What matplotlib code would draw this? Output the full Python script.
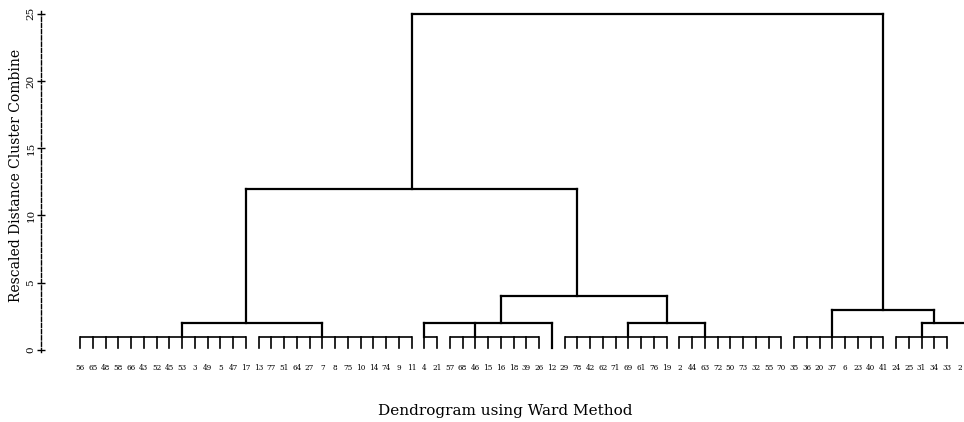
import matplotlib
matplotlib.use("Agg")
import matplotlib.pyplot as plt

# leaf labels, left to right (chart is cut off at the right edge)
leaf_labels = ["56", "65", "48", "58", "66", "43", "52", "45", "53", "3", "49", "5", "47", "17",
               "13", "77", "51", "64", "27", "7", "8", "75", "10", "14", "74", "9", "11",
               "4", "21",
               "57", "68", "46", "15", "16", "18", "39", "26",
               "12",
               "29", "78", "42", "62", "71", "69", "61", "76", "19",
               "2", "44", "63", "72", "50", "73", "32", "55", "70",
               "35", "36", "20", "37", "6", "23", "40", "41",
               "24", "25", "31", "34", "33",
               "2"]

# first-level clusters: (first leaf, last leaf, leaf where the branch rises)
groups = {
    "g1": (0, 13, 8),
    "g2": (14, 26, 19),
    "g3": (27, 28, 27),
    "g4": (29, 36, 31),
    "g5": (38, 46, 43),
    "g6": (47, 55, 49),
    "g7": (56, 63, 59),
    "g8": (64, 68, 66),
    "g9": (72, 72, 72),   # off the right edge
}
group_height = 1.0
leaf_bottom = 0.15
single_leaves = {"l37": 37}

# merges: name, height, leaf where it rises, children
merges = [
    ("a", 2, 13, ["g1", "g2"]),
    ("b", 2, 33, ["g3", "g4", "l37"]),
    ("c", 2, 46, ["g5", "g6"]),
    ("d", 2, 67, ["g8", "g9"]),
    ("e", 4, 39, ["b", "c"]),
    ("f", 3, 63, ["g7", "d"]),
    ("g", 12, 26, ["a", "e"]),
    ("top", 25, 63, ["g", "f"]),
]

plt.rcParams["font.family"] = ["DejaVu Serif"]

fig = plt.figure(figsize=(9.64, 4.22), dpi=100)
ax = fig.add_axes([41 / 964, 70 / 422, 923 / 964, 341 / 422])

pos = {}
for name, (s, e, anchor) in groups.items():
    ax.plot([s, e], [group_height, group_height], color="black", lw=1.2, solid_capstyle="butt")
    for x in range(s, e + 1):
        ax.plot([x, x], [leaf_bottom, group_height], color="black", lw=1.2)
    pos[name] = (anchor, group_height)
for name, x in single_leaves.items():
    pos[name] = (x, leaf_bottom)

for name, h, up, children in merges:
    cx = [pos[c][0] for c in children]
    ax.plot([min(cx), max(cx)], [h, h], color="black", lw=1.6, solid_capstyle="projecting")
    for c in children:
        x, y = pos[c]
        ax.plot([x, x], [y, h], color="black", lw=1.6)
    pos[name] = (up, h)

ax.set_xlim(-3.06, 69.33)
ax.set_ylim(-0.15, 25.2)

for s in ["top", "right", "bottom"]:
    ax.spines[s].set_visible(False)
ax.spines["left"].set_linestyle((0, (3, 1.5)))
ax.spines["left"].set_linewidth(1.0)

ax.set_yticks([0, 5, 10, 15, 20, 25])
ax.tick_params(axis="y", direction="inout", length=6, width=1, pad=1, labelsize=7.5)
for t in ax.get_yticklabels():
    t.set_rotation(90)
    t.set_va("center")

ax.set_xticks(range(len(leaf_labels)))
ax.set_xticklabels(leaf_labels, fontsize=5.2)
ax.tick_params(axis="x", length=0, pad=9)

fig.text(16 / 964, (422 - 175) / 422, "Rescaled Distance Cluster Combine",
         rotation=90, ha="center", va="center", fontsize=10)
fig.text(505 / 964, (422 - 411) / 422, "Dendrogram using Ward Method",
         ha="center", va="center", fontsize=11)

fig.savefig("out.png", dpi=100)
